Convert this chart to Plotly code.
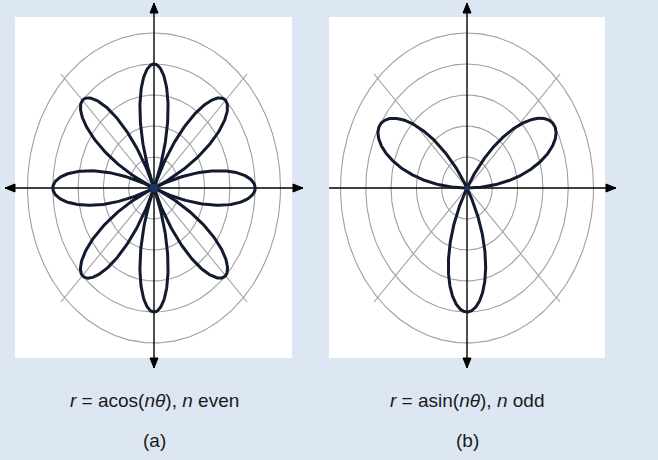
import numpy as np
import plotly.graph_objects as go

W, H = 658, 460
BG = "#dce7f3"
CURVE = "#121a2e"
GRID = "#9f9f9f"

# Rose curves r = a*cos(n*theta) and r = a*sin(n*theta)
amplitudes = [4, 4]
petal_n = [4, 3]
rose_kind = ["cos", "sin"]
theta_span = [2 * np.pi, np.pi]
captions = [
    "<i>r</i> = acos(<i>nθ</i>), <i>n</i> even",
    "<i>r</i> = asin(<i>nθ</i>), <i>n</i> odd",
]
panel_tags = ["(a)", "(b)"]

# Polar grid
grid_radii = [1, 2, 3, 4, 5]
spoke_angles_deg = [45, 135]
spoke_reach = 5.2

# Page geometry (pixels, top-left origin)
centers_px = [(154, 188), (467, 188)]
unit_x, unit_y = 25.3, 31.0
panels_px = [(15, 17, 292, 358), (329, 17, 605, 358)]
split_px = 329
axis_half_h = 149
axis_top, axis_bottom = 185, 180
head_len, head_half = 10, 4
caption_y_px = [400, 440]

fig = go.Figure()
domains = [(0, split_px), (split_px, W)]

for k in range(2):
    xa = "x" if k == 0 else "x2"
    ya = "y" if k == 0 else "y2"
    cx, cy = centers_px[k]

    # grid circles
    t = np.linspace(0, 2 * np.pi, 361)
    for r in grid_radii:
        fig.add_trace(go.Scatter(x=r * np.cos(t), y=r * np.sin(t), mode="lines",
                                 line=dict(color=GRID, width=1.1), hoverinfo="skip",
                                 showlegend=False, xaxis=xa, yaxis=ya))
    # diagonal spokes
    for a in spoke_angles_deg:
        ang = np.radians(a)
        fig.add_trace(go.Scatter(x=[-spoke_reach * np.cos(ang), spoke_reach * np.cos(ang)],
                                 y=[-spoke_reach * np.sin(ang), spoke_reach * np.sin(ang)],
                                 mode="lines", line=dict(color=GRID, width=1.1),
                                 hoverinfo="skip", showlegend=False, xaxis=xa, yaxis=ya))

    # coordinate axes with arrowheads
    hx = axis_half_h / unit_x
    vt, vb = axis_top / unit_y, axis_bottom / unit_y
    fig.add_trace(go.Scatter(x=[-hx, hx], y=[0, 0], mode="lines",
                             line=dict(color="black", width=1.4), hoverinfo="skip",
                             showlegend=False, xaxis=xa, yaxis=ya))
    fig.add_trace(go.Scatter(x=[0, 0], y=[-vb, vt], mode="lines",
                             line=dict(color="black", width=1.4), hoverinfo="skip",
                             showlegend=False, xaxis=xa, yaxis=ya))
    lx, wx = head_len / unit_x, head_half / unit_x
    ly, wy = head_len / unit_y, head_half / unit_y
    heads = [
        ([hx, hx - lx, hx - lx, hx], [0, wy, -wy, 0]),
        ([-hx, -hx + lx, -hx + lx, -hx], [0, wy, -wy, 0]),
        ([0, wx, -wx, 0], [vt, vt - ly, vt - ly, vt]),
        ([0, wx, -wx, 0], [-vb, -vb + ly, -vb + ly, -vb]),
    ]
    for hxs, hys in heads:
        fig.add_trace(go.Scatter(x=hxs, y=hys, mode="lines", fill="toself",
                                 fillcolor="black", line=dict(color="black", width=1),
                                 hoverinfo="skip", showlegend=False, xaxis=xa, yaxis=ya))

    # rose curve
    th = np.linspace(0, theta_span[k], 1200)
    f = np.cos if rose_kind[k] == "cos" else np.sin
    r = amplitudes[k] * f(petal_n[k] * th)
    fig.add_trace(go.Scatter(x=r * np.cos(th), y=r * np.sin(th), mode="lines",
                             line=dict(color=CURVE, width=3), hoverinfo="skip",
                             showlegend=False, xaxis=xa, yaxis=ya))
    fig.add_trace(go.Scatter(x=[0], y=[0], mode="markers",
                             marker=dict(color="#1d3566", size=8 if k == 0 else 5),
                             hoverinfo="skip", showlegend=False, xaxis=xa, yaxis=ya))

    # axis ranges so that one unit spans unit_x / unit_y pixels
    d0, d1 = domains[k]
    xr = [(d0 - cx) / unit_x, (d1 - cx) / unit_x]
    yr = [-(H - cy) / unit_y, cy / unit_y]
    ax_common = dict(visible=False, showgrid=False, zeroline=False, fixedrange=True)
    fig.layout["xaxis" if k == 0 else "xaxis2"] = dict(domain=[d0 / W, d1 / W], range=xr,
                                                        anchor=ya, **ax_common)
    fig.layout["yaxis" if k == 0 else "yaxis2"] = dict(domain=[0, 1], range=yr,
                                                        anchor=xa, **ax_common)

    # white panel
    x0, y0, x1, y1 = panels_px[k]
    fig.add_shape(type="rect", xref="paper", yref="paper", layer="below",
                  x0=x0 / W, x1=x1 / W, y0=1 - y1 / H, y1=1 - y0 / H,
                  fillcolor="white", line=dict(width=0))

    # captions
    for text, ypx in zip([captions[k], panel_tags[k]], caption_y_px):
        fig.add_annotation(text=text, xref="paper", yref="paper", x=cx / W, y=1 - ypx / H,
                           xanchor="center", yanchor="middle", showarrow=False,
                           font=dict(family="Liberation Sans, Arial, sans-serif",
                                     size=19, color="#1a1a1a"))

fig.update_layout(width=W, height=H, margin=dict(l=0, r=0, t=0, b=0),
                  paper_bgcolor=BG, plot_bgcolor="rgba(0,0,0,0)", showlegend=False)

fig.write_html("out.html")
